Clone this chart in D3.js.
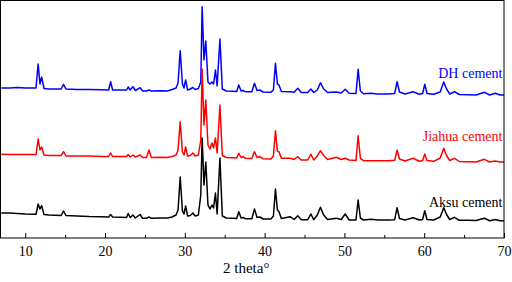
<!DOCTYPE html>
<html>
<head>
<meta charset="utf-8">
<script src="https://cdn.jsdelivr.net/npm/d3@7"></script>
<style>
  html, body { margin: 0; padding: 0; background: #fff; }
  svg { display: block; }
  text { font-family: "Liberation Serif", "Times New Roman", serif; }
</style>
</head>
<body>
<svg id="chart" width="512" height="282"></svg>
<script>
// 2θ sample positions (degrees)
const twoTheta = [7.0, 8.0, 9.0, 10.0, 11.0, 11.35, 11.62, 11.85, 12.06, 12.35, 13.0, 14.5, 14.8, 15.1, 16.5, 18.0, 19.5, 20.45, 20.7, 20.95, 22.0, 22.7, 22.9, 23.15, 23.5, 23.8, 24.4, 24.7, 25.2, 25.5, 25.8, 27.0, 27.8, 28.4, 28.9, 29.15, 29.42, 29.7, 29.9, 30.1, 30.35, 30.7, 31.0, 31.3, 31.7, 32.0, 32.17, 32.4, 32.63, 32.9, 33.15, 33.4, 33.6, 33.84, 34.05, 34.4, 34.7, 35.2, 36.0, 36.5, 36.76, 37.05, 37.3, 37.6, 38.4, 38.73, 39.05, 39.4, 39.8, 40.8, 41.1, 41.36, 41.6, 41.8, 42.1, 43.2, 43.7, 44.15, 44.6, 45.4, 45.8, 46.15, 46.6, 47.0, 47.4, 47.9, 49.0, 49.6, 50.1, 50.6, 51.45, 51.72, 52.0, 52.4, 53.3, 54.2, 55.5, 56.3, 56.6, 56.9, 57.6, 58.6, 59.4, 59.8, 60.07, 60.35, 61.2, 62.0, 62.45, 62.8, 63.2, 63.8, 64.4, 65.5, 66.5, 67.55, 68.2, 68.9, 69.5, 70.0];

// Intensities (a.u., stacked with offsets as in the figure)
const dhCement = [150, 150, 150.5, 150, 150, 150, 174, 154, 161, 149.5, 149, 149, 153.7, 149, 148.5, 148.5, 148.2, 148, 156.3, 148, 148, 148, 151, 148, 151.3, 147.5, 150.3, 147, 147, 148, 147, 147.2, 147, 148.5, 150, 155, 187.3, 154, 150, 158, 148, 149, 150.5, 148.5, 149.5, 156, 231.3, 178, 197, 156, 154, 156, 154, 168, 152, 199, 149, 147, 146.7, 146.5, 153, 147, 147.5, 146.3, 146.3, 154.7, 147.5, 148, 146, 145.7, 148, 174.7, 154, 153, 146.5, 146.3, 145.7, 149.7, 145.5, 145.5, 149, 145.5, 148, 155.3, 149, 145.5, 146, 145, 148.7, 144.7, 144.5, 168.7, 147, 144.3, 144.7, 144, 144, 144.5, 156.3, 146, 144, 146.3, 143.7, 144.5, 153.7, 144.5, 143.7, 146, 156, 149, 144, 146.3, 143.5, 143.3, 143, 145.7, 143, 144.7, 143, 143];

const jiahuaCement = [83.7, 83.5, 83.5, 83.5, 83.5, 83.5, 99, 88, 91, 83, 82.5, 82.5, 86.3, 82, 82, 82, 81.5, 81.5, 85, 81.5, 81.5, 81.5, 83.5, 81, 83, 81, 83, 80.5, 80.5, 88, 80.5, 80.7, 80.5, 81.5, 83, 88, 116.3, 86, 83, 91, 82, 82.5, 85, 82, 83, 98, 169, 113, 138, 93, 89, 95, 90, 100, 85, 133, 82.5, 80.5, 80.3, 80, 84.7, 80.5, 81.3, 79.7, 79.5, 86.3, 80.5, 81.3, 79.2, 79, 82, 107.3, 87, 86.3, 79.7, 79.7, 78.5, 81.3, 78, 78, 83.7, 78, 82, 87.3, 82.5, 78.5, 80.7, 78.5, 79.7, 78, 77.5, 102.3, 79.7, 77.3, 77.3, 77.3, 77.3, 77.7, 88, 79, 77, 79.7, 76.7, 77.5, 84, 77.5, 76.7, 80, 89.7, 82.5, 77.5, 79.7, 76.5, 76.3, 76, 78.7, 76, 77, 76, 76];

const aksuCement = [25, 25, 24.5, 24, 23.7, 23.7, 34, 29, 32.3, 23.5, 23, 22.5, 27, 22.5, 22, 21.5, 21.3, 21, 23.5, 21, 20.7, 20.5, 24.5, 20.5, 23, 20, 23.5, 19.7, 19.7, 21, 19.7, 20, 20, 21, 23, 28, 61, 27, 24, 32, 22, 22.5, 25, 22, 23, 43, 100, 53, 76, 33, 29, 33, 30, 45, 24, 80, 22, 20, 19.7, 19.5, 26.3, 20, 20.5, 19.3, 19.3, 29, 20.5, 21, 19, 19, 22, 49, 28, 26.3, 19.5, 21.3, 18.5, 22.3, 18.3, 18.3, 24, 18.3, 23, 30.7, 23, 18.5, 19.7, 18.5, 24, 18, 18, 38, 20, 18, 18.7, 18, 18, 18.3, 30.3, 19.5, 18, 20.3, 18, 18.5, 27.3, 18.5, 18, 21, 30.3, 23.5, 18.5, 20.7, 17.7, 17.7, 17.5, 19.7, 17.3, 18.5, 17.3, 17.3];

const seriesNames = ["DH cement", "Jiahua cement", "Aksu cement"];
const seriesColors = ["#0000ff", "#ff0000", "#000000"];
const labelAnchorTheta = [69.8, 69.8, 69.8];
const labelAnchorIntensity = [159.7, 97.3, 31.3];

const xTicksMajor = [10, 20, 30, 40, 50, 60, 70];
const xTicksMinor = [15, 25, 35, 45, 55, 65];
const xDomain = [6.9, 70];
const yDomain = [0, 238];
const xTitle = "2 theta°";

const svg = d3.select("#chart");
const plot = { left: 0.5, right: 504, top: 0.5, bottom: 238 };

const x = d3.scaleLinear().domain(xDomain).range([plot.left, plot.right]);
const y = d3.scaleLinear().domain(yDomain).range([plot.bottom, 0]);

const allSeries = [dhCement, jiahuaCement, aksuCement];

const line = d3.line()
  .x(d => x(d[0]))
  .y(d => y(d[1]))
  .curve(d3.curveLinear);

svg.append("clipPath").attr("id", "clip")
  .append("rect").attr("x", plot.left).attr("y", plot.top)
  .attr("width", plot.right - plot.left).attr("height", plot.bottom - plot.top);

const g = svg.append("g").attr("clip-path", "url(#clip)");
allSeries.forEach((vals, i) => {
  g.append("path")
    .datum(twoTheta.map((t, j) => [t, vals[j]]))
    .attr("d", line)
    .attr("fill", "none")
    .attr("stroke", seriesColors[i])
    .attr("stroke-width", 1.5)
    .attr("stroke-linejoin", "round");
});

// frame
svg.append("rect")
  .attr("x", plot.left).attr("y", plot.top)
  .attr("width", plot.right - plot.left).attr("height", plot.bottom - plot.top)
  .attr("fill", "none").attr("stroke", "#000").attr("stroke-width", 1);

// x axis (inward ticks)
const axis = svg.append("g").attr("transform", `translate(0,${plot.bottom})`)
  .call(d3.axisBottom(x).tickValues(xTicksMajor).tickSize(-5).tickPadding(8).tickFormat(d3.format("d")));
axis.select(".domain").remove();
axis.selectAll("text").attr("font-size", 14).attr("fill", "#000")
  .attr("font-family", "Liberation Serif, Times New Roman, serif");
axis.selectAll("line").attr("stroke", "#000");

const minor = svg.append("g").attr("transform", `translate(0,${plot.bottom})`)
  .call(d3.axisBottom(x).tickValues(xTicksMinor).tickSize(-3).tickFormat(""));
minor.select(".domain").remove();
minor.selectAll("line").attr("stroke", "#000");

svg.append("text")
  .attr("x", x(37.7)).attr("y", 273)
  .attr("text-anchor", "middle")
  .attr("font-size", 15)
  .text(xTitle);

// series labels
seriesNames.forEach((name, i) => {
  svg.append("text")
    .attr("x", x(labelAnchorTheta[i]))
    .attr("y", y(labelAnchorIntensity[i]))
    .attr("text-anchor", "end")
    .attr("font-size", 14)
    .attr("fill", seriesColors[i])
    .text(name);
});
</script>
</body>
</html>
